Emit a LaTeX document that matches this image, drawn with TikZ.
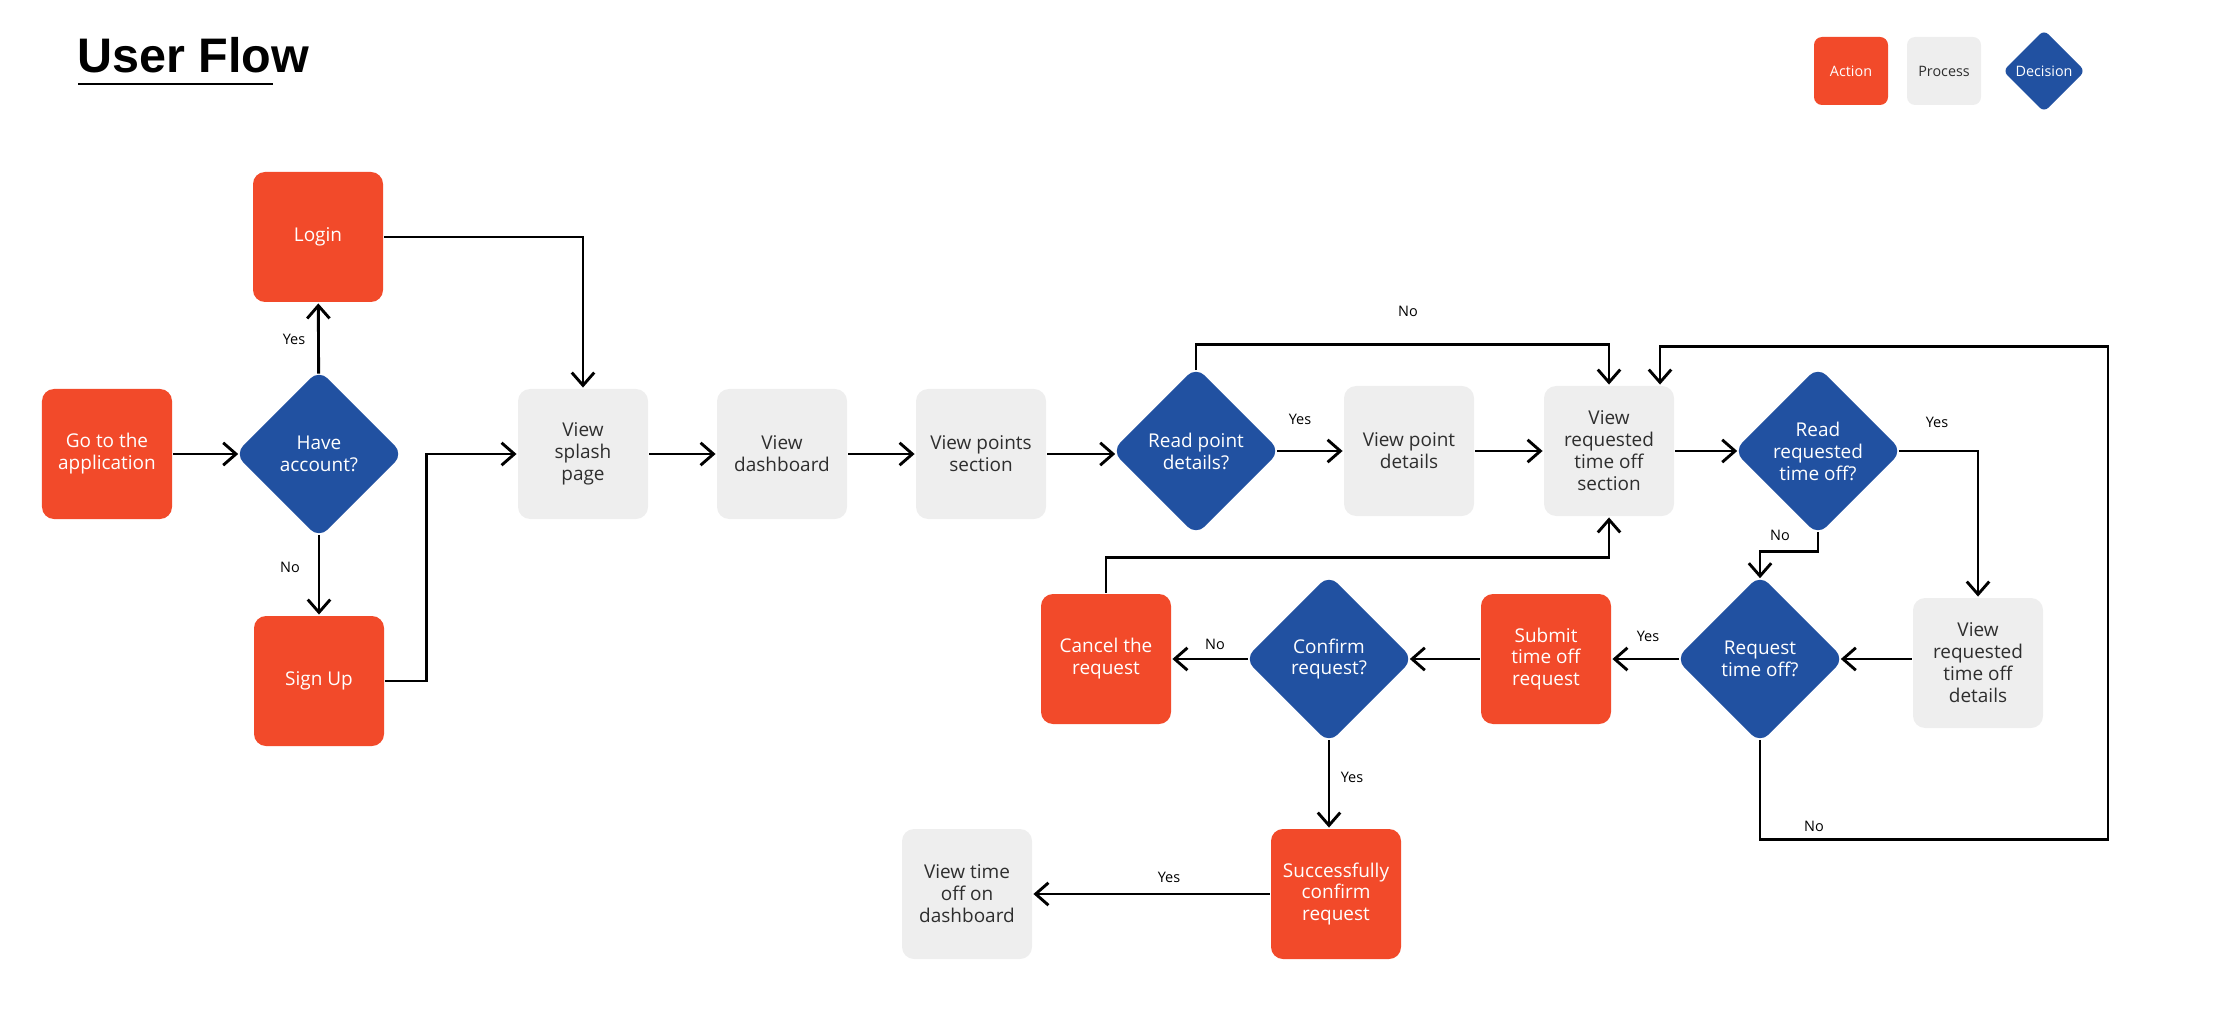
\documentclass[tikz,border=0pt]{standalone}
\usepackage{fontspec}
\setmainfont{Open Sans}
\newfontfamily\titlefont{Liberation Sans}
\usetikzlibrary{shapes.geometric, arrows.meta}

\definecolor{actionred}{HTML}{F24A2A}
\definecolor{processgray}{HTML}{EEEEEE}
\definecolor{decisionblue}{HTML}{2151A1}
\definecolor{processtext}{HTML}{2E2E2E}

\begin{document}
\begin{tikzpicture}[x = 0.25mm, y = -0.25mm, line width = 0.72mm,
    box/.style = {shape = rectangle, rounded corners = 3mm, minimum width = 32.5mm,
        minimum height = 32.5mm, inner sep = 0pt, align = center,
        font = \fontsize{13.5}{15.6}\selectfont},
    action/.style = {box, fill = actionred, text = white},
    process/.style = {box, fill = processgray, text = processtext},
    decision/.style = {shape = diamond, aspect = 1, rounded corners = 3mm,
        minimum width = 41.6mm, minimum height = 41.6mm, inner sep = 0pt,
        outer sep = -0.6mm, fill = decisionblue, text = white, align = center,
        font = \fontsize{13.5}{15.6}\selectfont},
    legendbox/.style = {minimum width = 18.5mm, minimum height = 17mm,
        rounded corners = 2mm, font = \fontsize{10.2}{12}\selectfont},
    flow/.style = {-{Straight Barb[length = 3.2mm, width = 5.6mm]}},
    tag/.style = {font = \fontsize{10.3}{12}\selectfont, inner sep = 0pt}]
    \useasboundingbox (0,0) rectangle (2230,1031);

    \node[anchor = base west, inner sep = 0pt,
        font = \titlefont\bfseries\fontsize{34.5}{40}\selectfont] (title) at (76,73) {User Flow};
    \draw (78,84) -- (273,84);

    \node[action, legendbox] (legaction) at (1851,71) {Action};
    \node[process, legendbox] (legprocess) at (1944,71) {Process};
    \node[decision, minimum width = 20.5mm, minimum height = 20.5mm, rounded corners = 1.5mm,
        outer sep = 0pt, font = \fontsize{10.2}{12}\selectfont] (legdecision) at (2044,71) {Decision};

    \node[action] (go) at (107,454) {Go to the\\application};
    \node[decision] (have) at (319,454) {Have\\account?};
    \node[action] (login) at (318,237) {Login};
    \node[action] (signup) at (319,681) {Sign Up};
    \node[process] (splash) at (583,454) {View\\splash\\page};
    \node[process] (dash) at (782,454) {View\\dashboard};
    \node[process] (points) at (981,454) {View points\\section};
    \node[decision] (readpoint) at (1196,451) {Read point\\details?};
    \node[process] (pointdet) at (1409,451) {View point\\details};
    \node[process] (section) at (1609,451) {View\\requested\\time off\\section};
    \node[decision] (readreq) at (1818,451) {Read\\requested\\time off?};
    \node[process] (reqdet) at (1978,663) {View\\requested\\time off\\details};
    \node[decision] (request) at (1760,659) {Request\\time off?};
    \node[action] (submit) at (1546,659) {Submit\\time off\\request};
    \node[decision] (confirm) at (1329,659) {Confirm\\request?};
    \node[action] (cancel) at (1106,659) {Cancel the\\request};
    \node[action] (success) at (1336,894) {Successfully\\confirm\\request};
    \node[process] (timeoff) at (967,894) {View time\\off on\\dashboard};

    \coordinate (loopin) at ([xshift = 12.75mm]section.north);

    \draw[flow] (go) -- (have);
    \draw[flow] (have) -- (login);
    \draw[flow] (have) -- (signup);
    \draw[flow] (login) -| (splash);
    \draw[flow] (signup.east) -- ++(41,0) |- (splash);
    \draw[flow] (splash) -- (dash);
    \draw[flow] (dash) -- (points);
    \draw[flow] (points.east) -- (points.east -| readpoint.west);
    \draw[flow] (readpoint) -- (pointdet);
    \draw[flow] (readpoint.north) -- ++(0,-26) -| (section.north);
    \draw[flow] (pointdet) -- (section);
    \draw[flow] (section) -- (readreq);
    \draw[flow] (readreq.east) -| (reqdet.north);
    \draw[flow] (readreq.south) -- ++(0,20) -| (request.north);
    \draw[flow] (reqdet.west |- request.east) -- (request.east);
    \draw[flow] (request) -- (submit);
    \draw[flow] (request.south) -- ++(0,100) -- ++(348,0) -- ++(0,-493) -| (loopin);
    \draw[flow] (submit) -- (confirm);
    \draw[flow] (confirm) -- (cancel);
    \draw[flow] (cancel.north) -- ++(0,-35) -| (section.south);
    \draw[flow] (confirm.south) -- (confirm.south |- success.north);
    \draw[flow] (success) -- (timeoff);

    \node[tag] (yeslogin) at (294,339) {Yes};
    \node[tag] (nosignup) at (290,567) {No};
    \node[tag] (yespoint) at (1300,419) {Yes};
    \node[tag] (nopoint) at (1408,311) {No};
    \node[tag] (yesreq) at (1937,422) {Yes};
    \node[tag] (noreq) at (1780,535) {No};
    \node[tag] (yessubmit) at (1648,636) {Yes};
    \node[tag] (noloop) at (1814,826) {No};
    \node[tag] (nocancel) at (1215,644) {No};
    \node[tag] (yesconfirm) at (1352,777) {Yes};
    \node[tag] (yesdash) at (1169,877) {Yes};
\end{tikzpicture}
\end{document}
